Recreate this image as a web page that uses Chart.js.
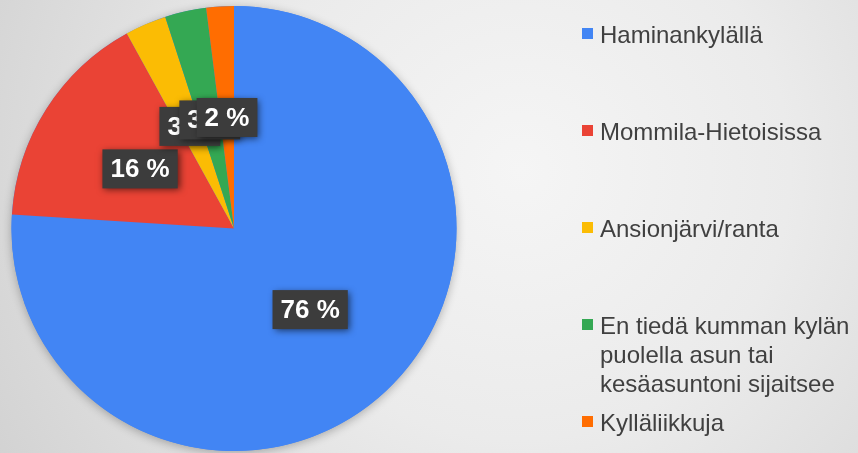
<!DOCTYPE html>
<html>
<head>
<meta charset="utf-8">
<script src="https://cdn.jsdelivr.net/npm/chart.js@4/dist/chart.umd.min.js"></script>
<style>
  html, body { margin: 0; padding: 0; background: #e8e8e8; overflow: hidden; }
  #wrap { position: relative; width: 858px; height: 453px; }
  canvas { display: block; }
</style>
</head>
<body>
<div id="wrap"><canvas id="c" width="858" height="453"></canvas></div>
<script>
const categories = [
  "Haminankylällä",
  "Mommila-Hietoisissa",
  "Ansionjärvi/ranta",
  "En tiedä kumman kylän puolella asun tai kesäasuntoni sijaitsee",
  "Kylläliikkuja"
];
const values = [76, 16, 3, 3, 2];
const valueLabels = ["76 %", "16 %", "3 %", "3 %", "2 %"];
const colors = ["#4285F4", "#EA4335", "#FBBC04", "#34A853", "#FF6D01"];

const bgPlugin = {
  id: 'bg',
  beforeDraw(chart) {
    const ctx = chart.ctx;
    ctx.save();
    const g = ctx.createRadialGradient(520, 170, 0, 520, 170, 600);
    g.addColorStop(0, '#f5f5f5');
    g.addColorStop(0.45, '#ebebeb');
    g.addColorStop(1, '#d2d2d2');
    ctx.fillStyle = g;
    ctx.fillRect(0, 0, chart.width, chart.height);
    ctx.restore();
  },
  beforeDatasetsDraw(chart) {
    const arc = chart.getDatasetMeta(0).data[0];
    if (!arc) return;
    const ctx = chart.ctx;
    ctx.save();
    ctx.shadowColor = 'rgba(0,0,0,0.28)';
    ctx.shadowBlur = 10;
    ctx.shadowOffsetX = 0;
    ctx.shadowOffsetY = 2;
    ctx.fillStyle = colors[0];
    ctx.beginPath();
    ctx.arc(arc.x, arc.y, arc.outerRadius, 0, Math.PI * 2);
    ctx.fill();
    ctx.restore();
  }
};

const labelPlugin = {
  id: 'boxLabels',
  afterDatasetsDraw(chart) {
    const ctx = chart.ctx;
    const meta = chart.getDatasetMeta(0);
    ctx.save();
    ctx.font = 'bold 26px "Liberation Sans", Arial, sans-serif';
    ctx.textAlign = 'center';
    ctx.textBaseline = 'middle';
    meta.data.forEach((arc, i) => {
      const p = arc.getCenterPoint();
      const txt = valueLabels[i];
      const tw = ctx.measureText(txt).width;
      const w = tw + 16, h = 39;
      ctx.save();
      ctx.shadowColor = 'rgba(0,0,0,0.6)';
      ctx.shadowBlur = 7;
      ctx.shadowOffsetX = 2;
      ctx.shadowOffsetY = 2;
      ctx.fillStyle = '#3c3c3c';
      ctx.fillRect(p.x - w / 2, p.y - h / 2, w, h);
      ctx.restore();
      ctx.fillStyle = '#ffffff';
      ctx.fillText(txt, p.x, p.y + 1);
    });
    ctx.restore();
  }
};

const legendPlugin = {
  id: 'sideLegend',
  afterDraw(chart) {
    const ctx = chart.ctx;
    ctx.save();
    ctx.font = '24px "Liberation Sans", Arial, sans-serif';
    ctx.textBaseline = 'alphabetic';
    ctx.textAlign = 'left';
    const markerX = 582, textX = 600, maxW = 258;
    const firstBase = 43, step = 97, lineH = 29;
    categories.forEach((lab, i) => {
      const base = firstBase + i * step;
      ctx.fillStyle = colors[i];
      ctx.fillRect(markerX, base - 15, 11, 11);
      // word wrap
      const words = lab.split(' ');
      const lines = [];
      let cur = '';
      words.forEach(w => {
        const t = cur ? cur + ' ' + w : w;
        if (ctx.measureText(t).width > maxW && cur) { lines.push(cur); cur = w; }
        else cur = t;
      });
      if (cur) lines.push(cur);
      ctx.fillStyle = '#404040';
      lines.forEach((ln, j) => ctx.fillText(ln, textX, base + j * lineH));
    });
    ctx.restore();
  }
};

new Chart(document.getElementById('c'), {
  type: 'pie',
  data: {
    labels: categories,
    datasets: [{
      data: values,
      backgroundColor: colors,
      borderWidth: 0
    }]
  },
  options: {
    responsive: false,
    animation: false,
    layout: { padding: { left: 11.5, right: 401.5, top: 6, bottom: 2 } },
    plugins: {
      legend: { display: false },
      tooltip: { enabled: false }
    }
  },
  plugins: [bgPlugin, labelPlugin, legendPlugin]
});
</script>
</body>
</html>
